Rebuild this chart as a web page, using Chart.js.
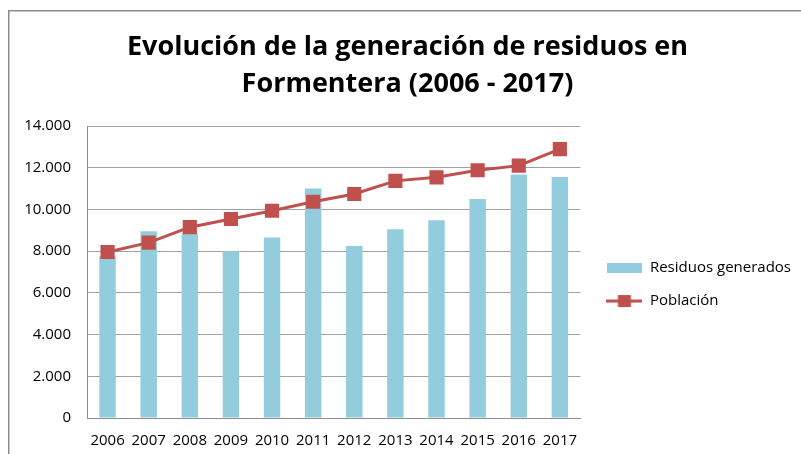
<!DOCTYPE html>
<html>
<head>
<meta charset="utf-8">
<script src="https://cdn.jsdelivr.net/npm/chart.js@4/dist/chart.umd.min.js"></script>
<style>
  html, body { margin: 0; padding: 0; background: #fff; }
  #wrap { width: 801px; height: 454px; position: relative; }
</style>
</head>
<body>
<div id="wrap"><canvas id="c" width="801" height="454"></canvas></div>
<script>
const categories = ['2006','2007','2008','2009','2010','2011','2012','2013','2014','2015','2016','2017'];
const residuos = [7750, 8950, 8850, 8000, 8650, 11000, 8250, 9050, 9480, 10500, 11680, 11560];
const poblacion = [7960, 8410, 9150, 9540, 9940, 10370, 10740, 11370, 11540, 11880, 12100, 12890];
const titleLines = ['Evolución de la generación de residuos en', 'Formentera (2006 - 2017)'];
const seriesNames = ['Residuos generados', 'Población'];

const BAR_COLOR = '#93CDDD';
const LINE_COLOR = '#C0504D';
const FONT = 'Open Sans';

function fmt(v) {
  const s = String(Math.round(v));
  return s.replace(/\B(?=(\d{3})+(?!\d))/g, '.');
}

// legend swatches
const barSwatch = document.createElement('canvas');
barSwatch.width = 35; barSwatch.height = 10;
(function(){ const g = barSwatch.getContext('2d'); g.fillStyle = BAR_COLOR; g.fillRect(0,0,35,10); })();
const lineSwatch = document.createElement('canvas');
lineSwatch.width = 36; lineSwatch.height = 14;
(function(){
  const g = lineSwatch.getContext('2d');
  g.strokeStyle = LINE_COLOR; g.lineWidth = 3;
  g.beginPath(); g.moveTo(0,7); g.lineTo(36,7); g.stroke();
  g.fillStyle = LINE_COLOR; g.fillRect(11.5,1,13,12);
})();

const borderPlugin = {
  id: 'outerBorder',
  beforeDraw(chart) {
    const ctx = chart.ctx;
    ctx.save();
    ctx.strokeStyle = '#8C8C8C';
    ctx.lineWidth = 1.5;
    ctx.strokeRect(8.75, 10.75, 1000, 1000);
    ctx.restore();
  }
};

new Chart(document.getElementById('c'), {
  type: 'bar',
  data: {
    labels: categories,
    datasets: [
      {
        type: 'bar',
        label: seriesNames[0],
        data: residuos,
        backgroundColor: BAR_COLOR,
        borderWidth: 0,
        barPercentage: 0.4,
        categoryPercentage: 1.0,
        order: 2
      },
      {
        type: 'line',
        label: seriesNames[1],
        data: poblacion,
        borderColor: LINE_COLOR,
        backgroundColor: LINE_COLOR,
        borderWidth: 3,
        pointStyle: 'rect',
        pointRadius: 10,
        pointBackgroundColor: LINE_COLOR,
        pointBorderColor: LINE_COLOR,
        pointBorderWidth: 0,
        tension: 0,
        order: 1
      }
    ]
  },
  options: {
    responsive: false,
    animation: false,
    devicePixelRatio: 1,
    layout: { padding: { left: 14, right: 0, top: 0, bottom: 0 } },
    plugins: {
      tooltip: { enabled: false },
      title: {
        display: true,
        text: titleLines,
        color: '#000',
        font: { family: FONT, size: 27, weight: 'bold', lineHeight: 1.356 },
        padding: { top: 29.5, bottom: 23.3 }
      },
      legend: {
        display: true,
        position: 'right',
        fullSize: false,
        align: 'center',
        maxWidth: 260,
        title: { display: true, text: ' ', font: { family: FONT, size: 10, lineHeight: 1 }, padding: { top: 7, bottom: 8 } },
        labels: {
          color: '#000',
          font: { family: FONT, size: 15 },
          usePointStyle: true,
          pointStyleWidth: 36,
          padding: 18,
          generateLabels(chart) {
            const items = Chart.defaults.plugins.legend.labels.generateLabels(chart);
            items.sort((a, b) => a.datasetIndex - b.datasetIndex);
            items.forEach(it => {
              it.pointStyle = it.datasetIndex === 0 ? barSwatch : lineSwatch;
              it.lineWidth = 0;
            });
            return items;
          }
        }
      }
    },
    scales: {
      x: {
        grid: { display: false, drawTicks: false },
        border: { display: true, color: '#8C8C8C', width: 1 },
        ticks: { color: '#000', font: { family: FONT, size: 15 }, padding: 14, maxRotation: 0, autoSkip: false },
        afterFit(s) { s.height = 36; }
      },
      y: {
        min: 0, max: 14000,
        ticks: { stepSize: 2000, color: '#000', font: { family: FONT, size: 15 }, padding: 16, callback: v => fmt(v) },
        grid: { color: '#A0A0A0', drawTicks: false, lineWidth: 1 },
        border: { display: true, color: '#8C8C8C', width: 1 },
        afterFit(s) { s.width = 73; }
      },
      yR: {
        type: 'linear',
        position: 'right',
        display: true,
        grid: { display: false, drawTicks: false },
        border: { display: false },
        ticks: { display: false },
        afterFit(s) { s.width = 8; }
      }
    }
  },
  plugins: [borderPlugin]
});
</script>
</body>
</html>
